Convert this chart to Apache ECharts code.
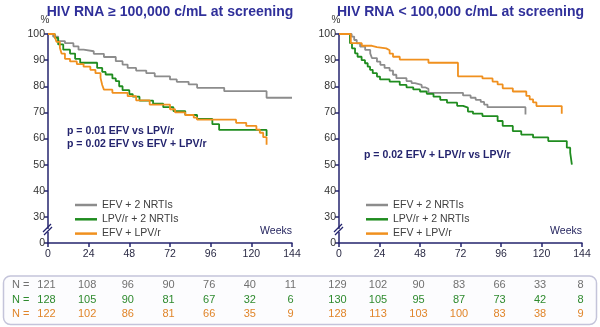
<!DOCTYPE html>
<html><head><meta charset="utf-8">
<script src="https://cdn.jsdelivr.net/npm/echarts@6/dist/echarts.min.js"></script>
<style>html,body{margin:0;padding:0;background:#fff}#c{width:600px;height:327px}</style>
</head><body><div id="c"></div>
<script>
// ---- data ----
const weekTicks = [0, 24, 48, 72, 96, 120, 144];
const names = ['EFV + 2 NRTIs', 'LPV/r + 2 NRTIs', 'EFV + LPV/r'];
const titles = ['HIV RNA \u2265 100,000 c/mL at screening', 'HIV RNA < 100,000 c/mL at screening'];
const pTextLeft = ['p = 0.01 EFV vs LPV/r', 'p = 0.02 EFV vs EFV + LPV/r'];
const pTextRight = ['p = 0.02 EFV + LPV/r vs LPV/r'];

const leftEFV = [[0,100],[3,99],[6,97.3],[10,96.5],[15,95.3],[18,94],[21,93.4],[27,92.4],[33,91.2],[40,89.6],[44,88.3],[47,87],[52,86],[58,85],[63,83.8],[72,82.6],[76,81.7],[83,80.7],[88,79.4],[104,78.1],[129,75.6],[144,75.6]];
const leftLPV = [[0,100],[4,98.5],[6,96],[9,94],[13,92.5],[16,90.5],[19,89],[29,87],[32,85.5],[34,84.5],[38,83],[40,82],[42,80],[44,78.5],[48,77],[50,76],[54,74.5],[62,73.3],[68,72],[74,70.5],[81,69],[88,67.5],[97,65.5],[101,63.3],[129,61]];
const leftCombo = [[0,100],[4,99],[5,97],[7,94.7],[8,92.5],[10,90.5],[13,89.5],[17,88.5],[21,87.5],[25,86.3],[28,85],[31,83.2],[32,80.5],[33,78.7],[38,77.5],[47,76.2],[52,74.6],[60,73],[72,71.2],[75,70],[81,69],[86,68],[88,67.2],[111,66],[117,64.8],[123,63.4],[125,62.2],[127,60.5],[129,57.6]];

const rightEFV = [[0,100],[7.5,99],[9,97.7],[10.5,96.4],[12.5,95.2],[15.5,93.9],[18.5,92.6],[19.5,90.8],[22.5,89.4],[24.5,88.2],[27,87],[30,86],[32,84.4],[34,83.1],[40,82],[43,81.2],[45,80.5],[49,79.6],[51,79],[53,77.5],[73.5,76.5],[78,75.6],[81,74.8],[84,74],[86,73],[88,72],[110.5,69.2]];
const rightLPV = [[0,100],[6.5,96.5],[7.7,94.5],[9.5,92.6],[11,91.3],[13.4,90],[15.4,88.8],[17,87.5],[18.4,86.3],[20,85],[22.5,83.7],[24.3,82.6],[30,81.8],[36,80.5],[40,79.6],[44,78.8],[48,78],[52,77.1],[56,76],[60,74.8],[64,73.7],[70,72.5],[73.5,71.8],[76.4,70.3],[79.4,69.5],[85,68.6],[94,66.7],[97,64.8],[103,62.8],[108,61.5],[115,60.4],[124,59],[135,56.5],[137,54.6],[138,50]];
const rightCombo = [[0,100],[7,96.5],[13.5,95.5],[19.5,95],[22.5,94.5],[28,93.8],[30,92.5],[32,91.3],[36,90.2],[53,89],[70.5,83.8],[85,83],[91,81.8],[94,80.7],[97,79.2],[103,78],[111,76.3],[113,75],[115,73.8],[117,72.4],[132,69.5]];

const leftN_EFV = [121,108,96,90,76,40,11];
const leftN_LPV = [128,105,90,81,67,32,6];
const leftN_Combo = [122,102,86,81,66,35,9];
const rightN_EFV = [129,102,90,83,66,33,8];
const rightN_LPV = [130,105,95,87,73,42,8];
const rightN_Combo = [128,113,103,100,83,38,9];

// ---- styles ----
const colors = ['#8c8c8c', '#1f8c1f', '#f0901e'];
const nColors = ['#707070', '#2e8a2e', '#e0852a'];
const navy = '#24246e';
const titleColor = '#30309a';
const FF = '"Liberation Sans", Arial, sans-serif';

const chart = echarts.init(document.getElementById('c'));

function xAxis(gi) {
  return {
    gridIndex: gi, type: 'value', min: 0, max: 144, interval: 24,
    axisLine: {lineStyle: {color: navy, width: 1.5}},
    axisTick: {length: 4, lineStyle: {color: navy, width: 1.5}},
    axisLabel: {color: '#2a2a44', fontSize: 10.5, fontFamily: FF, margin: 6},
    splitLine: {show: false}
  };
}
function yAxis(gi) {
  return {
    gridIndex: gi, type: 'value', min: 20, max: 100, interval: 10,
    axisLine: {show: true, lineStyle: {color: navy, width: 1.5}},
    axisTick: {show: true, length: 4, lineStyle: {color: navy, width: 1.5}},
    axisLabel: {color: '#333', fontSize: 10.5, fontFamily: FF, margin: 3,
      formatter: v => v === 20 ? '0' : String(v)},
    splitLine: {show: false}
  };
}
function line(name, data, ci, gi) {
  return {
    name, type: 'line', step: 'end', data, xAxisIndex: gi, yAxisIndex: gi,
    symbol: 'none', showSymbol: false, animation: false,
    lineStyle: {color: colors[ci], width: 1.8}, itemStyle: {color: colors[ci]}
  };
}
function legend(left) {
  return {
    data: names, orient: 'vertical', left, top: 194, icon: 'rect',
    itemWidth: 22, itemHeight: 2.5, itemGap: 2.3, selectedMode: false,
    textStyle: {color: '#404040', fontSize: 10.5, fontFamily: FF, lineHeight: 12}
  };
}

chart.setOption({
  animation: false,
  grid: [
    {left: 48, top: 34, width: 244, height: 209},
    {left: 339, top: 34, width: 243, height: 209}
  ],
  xAxis: [xAxis(0), xAxis(1)],
  yAxis: [yAxis(0), yAxis(1)],
  legend: [legend(70), legend(361)],
  series: [
    line(names[0], leftEFV, 0, 0), line(names[1], leftLPV, 1, 0), line(names[2], leftCombo, 2, 0),
    line(names[0], rightEFV, 0, 1), line(names[1], rightLPV, 1, 1), line(names[2], rightCombo, 2, 1)
  ]
});

function txt(x, y, text, opts) {
  return {type: 'text', silent: true, z: 10, style: Object.assign({
    x, y, text, fill: '#333', font: '10.5px ' + FF,
    textAlign: 'left', align: 'left', textVerticalAlign: 'middle', verticalAlign: 'middle'
  }, opts || {})};
}
const g = [];
// table box
g.push({type: 'rect', silent: true, z: 1, shape: {x: 3.5, y: 276, width: 593, height: 48.5, r: 7},
  style: {fill: '#fcfcfe', stroke: '#c4c4da', lineWidth: 1.5}});
const nTables = [[leftN_EFV, leftN_LPV, leftN_Combo], [rightN_EFV, rightN_LPV, rightN_Combo]];
const rowY = [285, 299.5, 314];
for (let r = 0; r < 3; r++) g.push(txt(12, rowY[r], 'N =', {fill: nColors[r], font: '11px ' + FF}));
for (let gi = 0; gi < 2; gi++) {
  const top = chart.convertToPixel({gridIndex: gi}, [0, 100]);
  const a30 = chart.convertToPixel({gridIndex: gi}, [0, 30]);
  const a0 = chart.convertToPixel({gridIndex: gi}, [0, 20]);
  const xEnd = chart.convertToPixel({gridIndex: gi}, [144, 20]);
  const xMid = (top[0] + xEnd[0]) / 2;
  g.push(txt(xMid, 12, titles[gi], {fill: titleColor, font: 'bold 14px ' + FF, textAlign: 'center', align: 'center'}));
  g.push(txt(top[0] - 3, 20, '%', {fill: '#333', font: '10px ' + FF, textAlign: 'center', align: 'center'}));
  g.push(txt(xEnd[0], 231, 'Weeks', {fill: '#24245e', font: '10.5px ' + FF, textAlign: 'right', align: 'right'}));
  // axis break
  const by = (a30[1] + a0[1]) / 2 + 1;
  const bx = a0[0];
  g.push({type: 'rect', silent: true, z: 9, shape: {x: bx - 3, y: by - 2, width: 6, height: 3}, style: {fill: '#fff'}});
  g.push({type: 'line', silent: true, z: 10, shape: {x1: bx - 5, y1: by + 1, x2: bx + 3, y2: by - 7}, style: {stroke: navy, lineWidth: 1.3}});
  g.push({type: 'line', silent: true, z: 10, shape: {x1: bx - 4, y1: by + 4, x2: bx + 4, y2: by - 4}, style: {stroke: navy, lineWidth: 1.3}});
  // N table
  for (let r = 0; r < 3; r++) {
    const arr = nTables[gi][r];
    for (let i = 0; i < weekTicks.length; i++) {
      const p = chart.convertToPixel({gridIndex: gi}, [weekTicks[i], 20]);
      g.push(txt(p[0] - 1.5, rowY[r], String(arr[i]), {fill: nColors[r], font: '11px ' + FF, textAlign: 'center', align: 'center'}));
    }
  }
}
// p-value texts
g.push(txt(67, 131.5, pTextLeft[0], {fill: navy, font: 'bold 10.5px ' + FF}));
g.push(txt(67, 144, pTextLeft[1], {fill: navy, font: 'bold 10.5px ' + FF}));
g.push(txt(364, 155, pTextRight[0], {fill: navy, font: 'bold 10.5px ' + FF}));

chart.setOption({graphic: g});
</script>
</body></html>
